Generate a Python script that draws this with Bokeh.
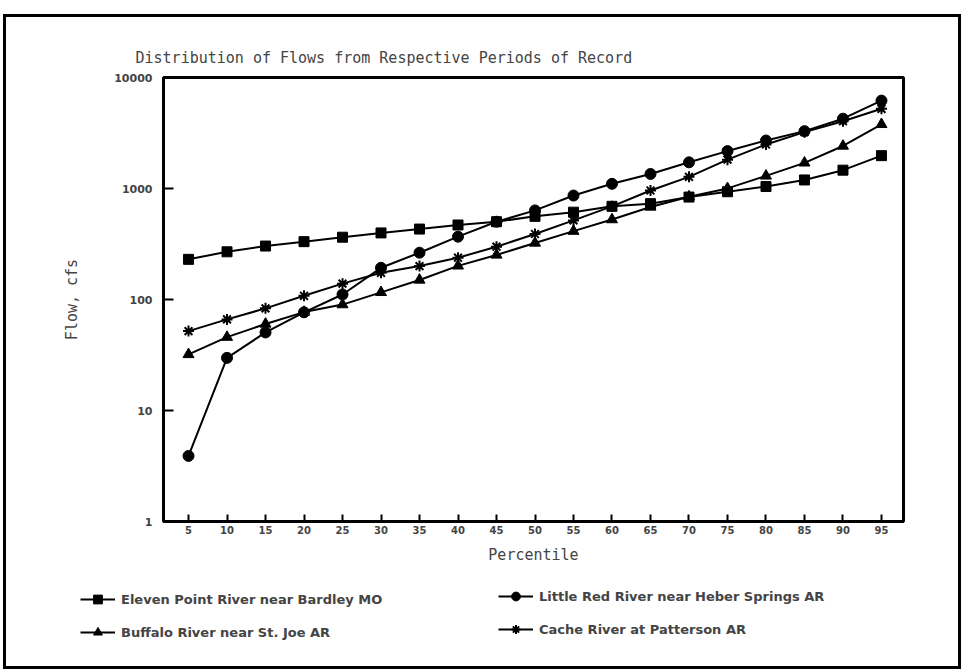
from bokeh.plotting import figure
from bokeh.models import FixedTicker, Legend, LegendItem, Range1d, Div
from bokeh.embed import file_html
from bokeh.resources import INLINE

# Flow-duration percentiles (x axis)
percentiles = [5, 10, 15, 20, 25, 30, 35, 40, 45, 50, 55, 60, 65, 70, 75, 80, 85, 90, 95]
x_tick_labels = ["5", "10", "15", "20", "25", "30", "35", "40", "45", "50",
                 "55", "60", "65", "70", "75", "80", "85", "90", "95"]

# Flow, cfs, for each station
eleven_point = [230, 269, 303, 332, 364, 398, 431, 469, 502, 561,
                612, 691, 730, 837, 935, 1042, 1194, 1463, 1977]
little_red = [3.9, 29.8, 50.5, 76.7, 111, 193, 264, 368, 502, 635,
              864, 1102, 1353, 1721, 2173, 2705, 3287, 4256, 6190]
buffalo = [32, 45.8, 60.2, 77, 90, 116, 150, 201, 252, 323,
           413, 525, 682, 844, 1002, 1298, 1703, 2415, 3784]
cache = [51.9, 66.2, 83.2, 108, 139, 174, 200, 238, 299, 389,
         516, 691, 959, 1274, 1820, 2491, 3220, 4035, 5222]

series_names = ["Eleven Point River near Bardley MO",
                "Little Red River near Heber Springs AR",
                "Buffalo River near St. Joe AR",
                "Cache River at Patterson AR"]

y_ticks = [1, 10, 100, 1000, 10000]
y_tick_labels = ["1", "10", "100", "1000", "10000"]

MONO = "DejaVu Sans Mono"
SANS = "DejaVu Sans"

# ---- main chart ----
p = figure(
    width=965, height=585,
    x_range=Range1d(1.75, 97.86),
    y_range=Range1d(1, 10000),
    y_axis_type="log",
    output_backend="svg",
    toolbar_location=None,
    min_border_left=163, min_border_right=62,
    min_border_top=77, min_border_bottom=64,
)
p.background_fill_color = "white"
p.border_fill_color = "white"
p.outline_line_color = "black"
p.outline_line_width = 3
p.grid.visible = False

p.title.text = "Distribution of Flows from Respective Periods of Record"
p.title.text_font = MONO
p.title.text_font_size = "15px"
p.title.text_font_style = "normal"
p.title.align = "left"
p.title.offset = -28
p.title.standoff = 21

xa = p.xaxis[0]
xa.ticker = FixedTicker(ticks=percentiles)
xa.major_label_overrides = dict(zip(percentiles, x_tick_labels))
xa.axis_label = "Percentile"
xa.axis_label_text_font = MONO
xa.axis_label_text_font_size = "15px"
xa.axis_label_text_font_style = "normal"
xa.axis_label_standoff = 9
xa.major_label_text_font = SANS
xa.major_label_text_font_style = "bold"
xa.major_label_text_font_size = "10px"
xa.major_label_standoff = 4
xa.major_tick_in = 7
xa.major_tick_out = 0
xa.major_tick_line_width = 2
xa.minor_tick_line_color = None
xa.axis_line_width = 3

ya = p.yaxis[0]
ya.ticker = FixedTicker(ticks=y_ticks)
ya.major_label_overrides = dict(zip(y_ticks, y_tick_labels))
ya.axis_label = "Flow, cfs"
ya.axis_label_text_font = MONO
ya.axis_label_text_font_size = "15px"
ya.axis_label_text_font_style = "normal"
ya.axis_label_standoff = 30
ya.major_label_text_font = SANS
ya.major_label_text_font_style = "bold"
ya.major_label_text_font_size = "11px"
ya.major_label_standoff = 11
ya.major_tick_in = 10
ya.major_tick_out = 0
ya.major_tick_line_width = 2
ya.minor_tick_line_color = None
ya.axis_line_width = 3

SERIES_STYLE = [("square", 10, 1), ("circle", 11, 1), ("triangle", 11, 1), ("asterisk", 11, 2)]
series_values = [eleven_point, little_red, buffalo, cache]

for values, (marker, size, lw) in zip(series_values, SERIES_STYLE):
    p.line(percentiles, values, line_color="black", line_width=2)
    p.scatter(percentiles, values, marker=marker, size=size,
              fill_color="black", line_color="black", line_width=lw)

# ---- legend strip under the chart ----
leg = figure(
    width=965, height=87, title=None,
    x_range=Range1d(0, 1), y_range=Range1d(0, 1),
    output_backend="svg", toolbar_location=None,
    x_axis_location=None, y_axis_location=None,
    min_border_left=0, min_border_right=0, min_border_top=0, min_border_bottom=0,
)
leg.outline_line_color = None
leg.grid.visible = False
leg.background_fill_color = "white"
leg.border_fill_color = "white"

# key glyphs only (no visible points in this strip)
nan = float("nan")
legend_renderers = []
for marker, size, lw in SERIES_STYLE:
    ln = leg.line(x=[nan], y=[nan], line_color="black", line_width=2)
    sc = leg.scatter(x=[nan], y=[nan], marker=marker, size=size,
                     fill_color="black", line_color="black", line_width=lw)
    legend_renderers.append([ln, sc])

def make_legend(idx, loc):
    lg = Legend(items=[LegendItem(label=series_names[i], renderers=legend_renderers[i]) for i in idx],
                location=loc, orientation="vertical")
    lg.border_line_color = None
    lg.background_fill_alpha = 0
    lg.padding = 0
    lg.margin = 0
    lg.spacing = 11
    lg.glyph_width = 35
    lg.glyph_height = 22
    lg.label_height = 22
    lg.label_standoff = 6
    lg.label_text_font = SANS
    lg.label_text_font_style = "bold"
    lg.label_text_font_size = "13px"
    return lg

leg.add_layout(make_legend([0, 2], (80, 29)))
leg.add_layout(make_legend([1, 3], (498, 32)))

# page frame drawn around the whole sheet
frame_box = Div(text="", margin=0, styles={
    "position": "absolute", "left": "3px", "top": "14px",
    "width": "958px", "height": "655px",
    "border": "3px solid black", "box-sizing": "border-box",
    "pointer-events": "none", "z-index": "10",
})

open("out.html", "w").write(file_html([p, leg, frame_box], INLINE))
